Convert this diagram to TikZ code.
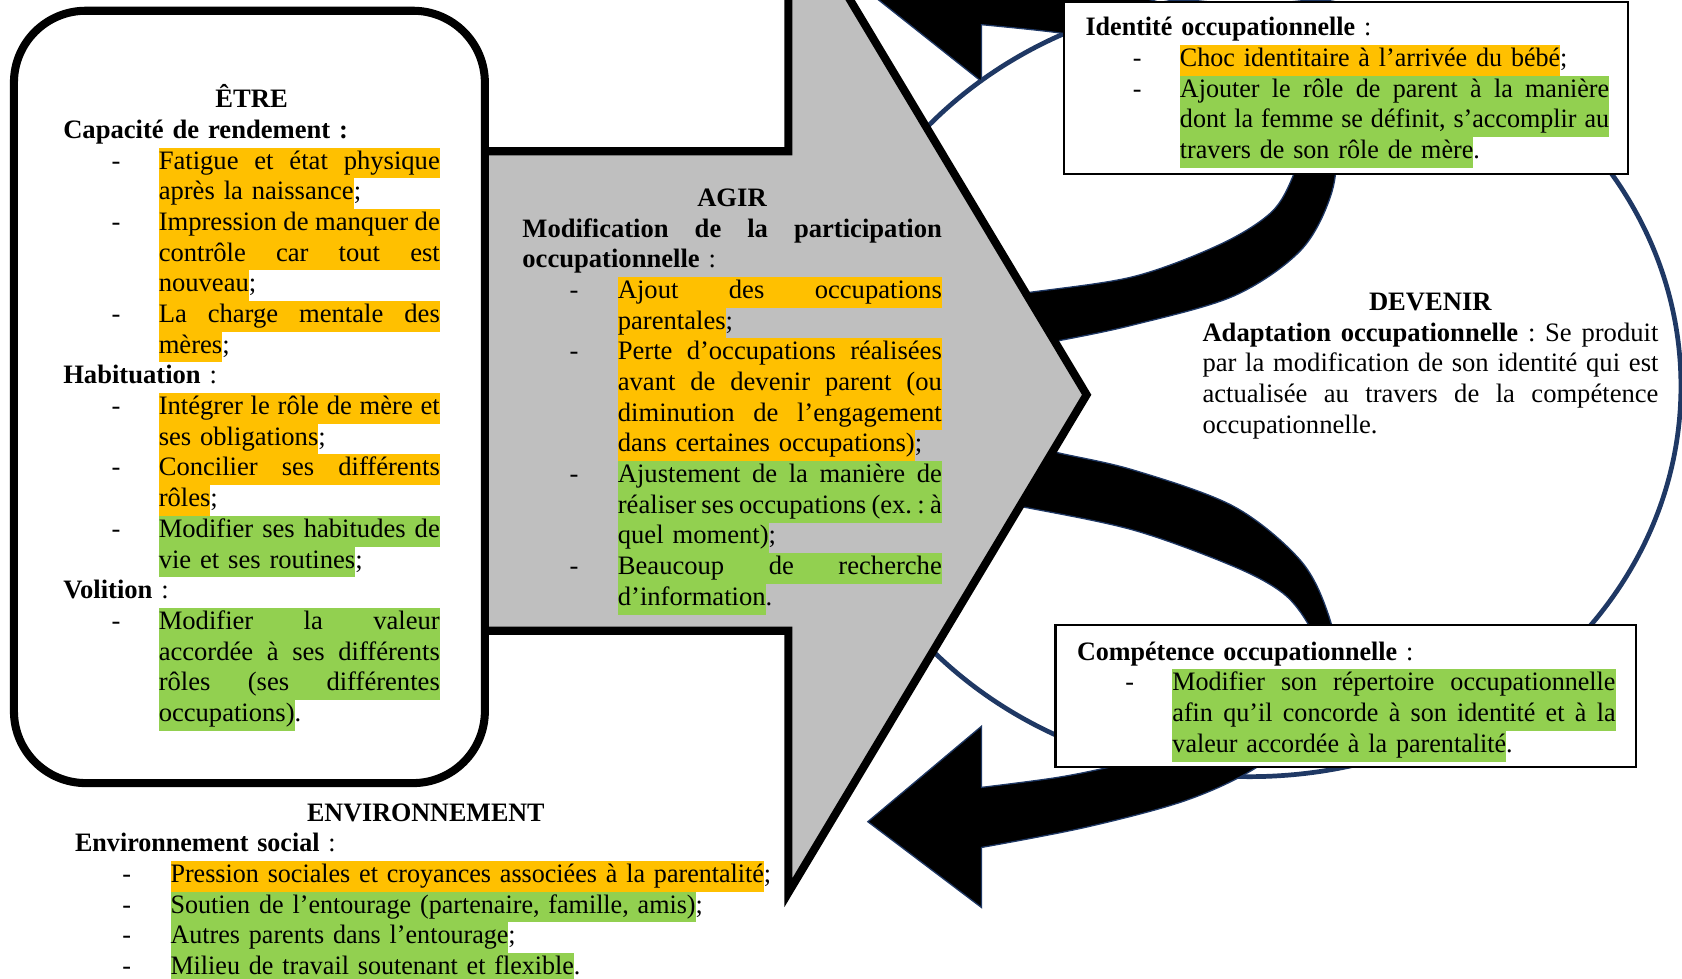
\documentclass[tikz,border=0pt]{standalone}
\usepackage{fontspec}
\setmainfont{Liberation Serif}
\newfontfamily\serre[FakeStretch=0.98]{Liberation Serif}
\usepackage{xcolor}

\definecolor{hlorange}{HTML}{FFC000}
\definecolor{hlgreen}{HTML}{92D050}
\definecolor{agirgray}{HTML}{BFBFBF}
\definecolor{navy}{HTML}{1F3864}

\setlength{\fboxsep}{0pt}
\newlength{\dashin}
\newlength{\colin}
\newlength{\colw}
% justified line: the gaps between the words are spread
\newcommand{\ecart}{\hspace{0.25em plus 1fill minus 0.1em}}
\ExplSyntaxOn
\seq_new:N \l__etire_mots_seq
\NewDocumentCommand{\etire}{m}
  {
    \seq_set_split:Nnn \l__etire_mots_seq { ~ } { #1 }
    \seq_use:Nn \l__etire_mots_seq { \ecart }
  }
\ExplSyntaxOff
% lines of a text block
\newcommand{\ctr}[1]{\noindent\makebox[\linewidth]{\strut\textbf{#1}}\par}
\newcommand{\just}[1]{\noindent\hbox to\linewidth{\strut\etire{#1}}\par}
\newcommand{\ligne}[1]{\noindent\strut#1\par}
\newcommand{\puce}[1]{\noindent\makebox[\colin][l]{\hspace*{\dashin}-}#1\par}
\newcommand{\suite}[1]{\noindent\hspace*{\colin}#1\par}
% highlighted text: full justified line, or last line of an item
\newcommand{\jo}[1]{\colorbox{hlorange}{\strut\hbox to\colw{\etire{#1}}}}
\newcommand{\jg}[1]{\colorbox{hlgreen}{\strut\hbox to\colw{\etire{#1}}}}
\newcommand{\fino}[1]{\colorbox{hlorange}{\strut#1}}
\newcommand{\fing}[1]{\colorbox{hlgreen}{\strut#1}}

\begin{document}
\begin{tikzpicture}[x=0.5pt, y=-0.5pt,
    bloc/.style={anchor=base west, inner sep=0pt, outer sep=0pt,
      font={\fontsize{12.4pt}{14.3pt}\selectfont\frenchspacing},
      execute at begin node={\lineskiplimit=-5pt}},
    serre/.style={font={\fontsize{12.4pt}{14.3pt}\serre\frenchspacing}},
    cols/.style n args={3}{execute at begin node={%
      \setlength{\dashin}{#1}\setlength{\colin}{#2}\setlength{\colw}{#3}}},
    loopline/.style={draw=navy, line width=2.2pt},
    band/.style={fill=black, draw=navy, line width=0.6pt},
    agirarrow/.style={fill=agirgray, draw=black, line width=3.75pt},
    etrebox/.style={fill=white, draw=black, line width=3.75pt, rounded corners=33.5pt},
    textbox/.style={fill=white, draw=black, line width=1pt}]

  \useasboundingbox (0,0) rectangle (1568,912);
  \clip (0,0) rectangle (1568,912);

  % loop of DEVENIR
  \draw[loopline] (1165,360) ellipse [x radius=201pt, y radius=182pt];

  % curved arrows out of AGIR
  \draw[band] plot[smooth, tension=0.55] coordinates {(930,278) (957,273) (1056,258) (1137,228) (1185,198) (1205,165) (1210,140) (1198,110) (1165,80) (1110,58) (1035,41) (990,31) (915,23)}
    -- (915,76) -- (809,-8) -- (915,-92)
    -- plot[smooth, tension=0.55] coordinates {(915,-34) (1013,-15) (1106,10) (1172,41) (1222,84) (1244,141) (1240,184) (1212,234) (1150,276) (1056,303) (985,318) (955,323)}
    -- cycle;
  \draw[band] plot[smooth, tension=0.55] coordinates {(950,410) (982,421) (1056,438) (1150,472) (1212,522) (1238,572) (1244,615) (1222,672) (1172,715) (1106,746) (1013,771) (915,790)}
    -- (915,846) -- (809,766) -- (915,677)
    -- plot[smooth, tension=0.55] coordinates {(915,734) (984,725) (1035,715) (1110,698) (1175,668) (1213,632) (1224,600) (1219,581) (1196,553) (1150,528) (1056,494) (951,472) (925,467)}
    -- cycle;

  % big arrow AGIR
  \draw[agirarrow] (440,141) -- (735,141) -- (735,-96) -- (1013,368)
    -- (735,832) -- (735,588) -- (440,588) -- cycle;

  % frames
  \draw[etrebox] (13,10) rectangle (452,730);
  \draw[textbox] (992,1.5) rectangle (1518,162);
  \draw[textbox] (984,583) rectangle (1525,715);

  % ETRE
  \node[bloc, text width=175.5pt, cols={22.5pt}{44.5pt}{131pt}] (etre) at (59,100.5) {%
    \ctr{ÊTRE}%
    \ligne{\textbf{Capacité de rendement :}}%
    \puce{\jo{Fatigue et état physique}}%
    \suite{\fino{après la naissance};}%
    \puce{\jo{Impression de manquer de}}%
    \suite{\jo{contrôle car tout est}}%
    \suite{\fino{nouveau};}%
    \puce{\jo{La charge mentale des}}%
    \suite{\fino{mères};}%
    \ligne{\textbf{Habituation} :}%
    \puce{\jo{Intégrer le rôle de mère et}}%
    \suite{\fino{ses obligations};}%
    \puce{\jo{Concilier ses différents}}%
    \suite{\fino{rôles};}%
    \puce{\jg{Modifier ses habitudes de}}%
    \suite{\fing{vie et ses routines};}%
    \ligne{\textbf{Volition} :}%
    \puce{\jg{Modifier la valeur}}%
    \suite{\jg{accordée à ses différents}}%
    \suite{\jg{rôles (ses différentes}}%
    \suite{\fing{occupations)}.}};

  % AGIR
  \node[bloc, text width=195.5pt, cols={22pt}{44.5pt}{151pt}] (agir) at (487,192.5) {%
    \ctr{AGIR}%
    \just{\bfseries Modification de la participation}%
    \ligne{\textbf{occupationnelle} :}%
    \puce{\jo{Ajout des occupations}}%
    \suite{\fino{parentales};}%
    \puce{\jo{Perte d’occupations réalisées}}%
    \suite{\jo{avant de devenir parent (ou}}%
    \suite{\jo{diminution de l’engagement}}%
    \suite{\fino{dans certaines occupations)};}%
    \puce{\jg{Ajustement de la manière de}}%
    \suite{\jg{réaliser ses occupations (ex. : à}}%
    \suite{\fing{quel moment)};}%
    \puce{\jg{Beaucoup de recherche}}%
    \suite{\fing{d’information}.}};

  % ENVIRONNEMENT
  \node[bloc, serre, text width=327pt, cols={22pt}{44.5pt}{282.5pt}] (envir) at (70,765.5) {%
    \ctr{ENVIRONNEMENT}%
    \ligne{\textbf{Environnement social} :}%
    \puce{\fino{Pression sociales et croyances associées à la parentalité};}%
    \puce{\fing{Soutien de l’entourage (partenaire, famille, amis)};}%
    \puce{\fing{Autres parents dans l’entourage};}%
    \puce{\fing{Milieu de travail soutenant et flexible}.}};

  % DEVENIR
  \node[bloc, serre, text width=244pt, cols={22pt}{44pt}{200pt}] (identite) at (1012,33.5) {%
    \ligne{\textbf{Identité occupationnelle} :}%
    \puce{\fino{Choc identitaire à l’arrivée du bébé};}%
    \puce{\jg{Ajouter le rôle de parent à la manière}}%
    \suite{\jg{dont la femme se définit, s’accomplir au}}%
    \suite{\fing{travers de son rôle de mère}.}};
  \node[bloc, serre, text width=251pt, cols={22.5pt}{44.5pt}{206.5pt}] (competence) at (1004,615.5) {%
    \ligne{\textbf{Compétence occupationnelle} :}%
    \puce{\jg{Modifier son répertoire occupationnelle}}%
    \suite{\jg{afin qu’il concorde à son identité et à la}}%
    \suite{\fing{valeur accordée à la parentalité}.}};
  \node[bloc, text width=212.5pt] (devenir) at (1121,289.5) {%
    \ctr{DEVENIR}%
    \just{\textbf{Adaptation} \textbf{occupationnelle} : Se produit}%
    \just{par la modification de son identité qui est}%
    \just{actualisée au travers de la compétence}%
    \ligne{occupationnelle.}};
\end{tikzpicture}
\end{document}
